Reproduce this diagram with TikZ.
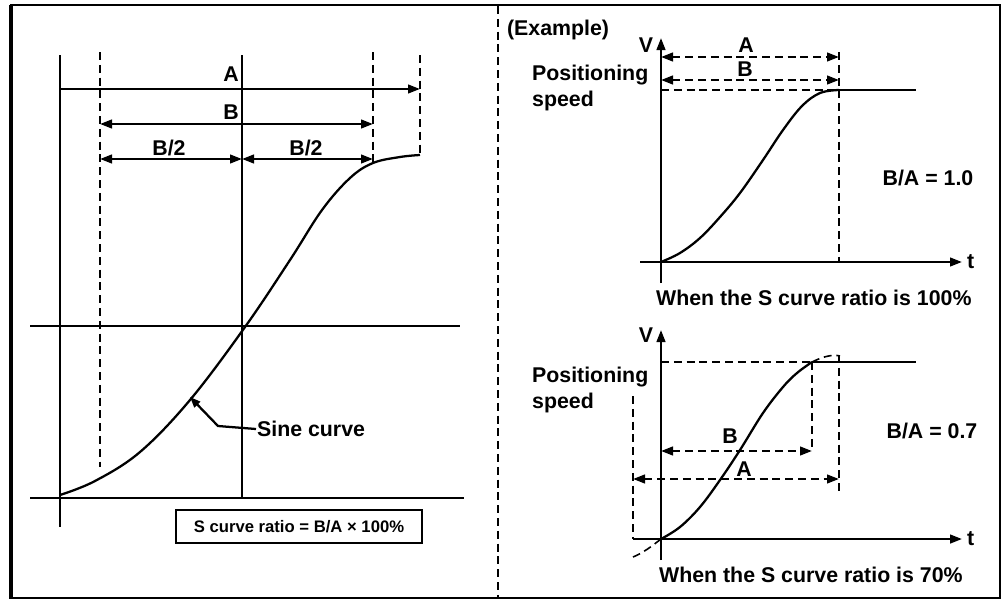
\documentclass[tikz,border=0pt]{standalone}
\usepackage{fontspec}
\setmainfont{Liberation Sans}
\usetikzlibrary{arrows.meta}
\begin{document}
\begin{tikzpicture}[x=0.75pt,y=-0.75pt, line width=1.7pt,
  lbl/.style={font=\fontsize{16}{19}\selectfont\bfseries, inner sep=0pt},
  small/.style={font=\fontsize{12.5}{14}\selectfont\bfseries, inner sep=0pt},
  dsh/.style={dash pattern=on 6pt off 3.6pt},
  tip/.style={-{Triangle[length=9pt,width=6.5pt]}},
  dtip/.style={{Triangle[length=9pt,width=6.5pt]}-{Triangle[length=9pt,width=6.5pt]}}]
\useasboundingbox (0,0) rectangle (1002,603);
% frame
\draw[line width=2pt] (11,5) rectangle (1000,598);
\draw[line width=2.8pt] (11,5) -- (11,599);
\draw[dsh] (498,6) -- (498,598);

% ===== left panel =====
\draw (60,55) -- (60,527);
\draw[dsh] (100,52) -- (100,467);
\draw (242,55) -- (242,497);
\draw[dsh] (373,52) -- (373,162);
\draw[dsh] (420,55) -- (420,155);
\draw (30,326) -- (460,326);
\draw (30,498) -- (464,498);
% dimension arrows
\draw[tip] (60,89) -- (420,89);
\node[lbl] (lA) at (231,74) {A};
\draw[dtip] (100,124) -- (373,124);
\node[lbl] (lB) at (231,112) {B};
\draw[dtip] (100,159) -- (242,159);
\draw[dtip] (242,159) -- (373,159);
\node[lbl] (lB2a) at (169,148) {B/2};
\node[lbl] (lB2b) at (306,148) {B/2};
% sine curve
\draw plot[smooth, tension=0.6] coordinates {(60,495) (95,481) (140,452) (190,400) (245,327) (290,260) (322,210) (350,178) (373,163) (400,157) (420,155)};
\node[lbl, anchor=west] (sine) at (256,429) {Sine curve};
\draw[{Triangle[length=8pt,width=6pt]}-] (190,397) -- (218,426) -- (sine.west);
% formula box
\node[small, draw, line width=1.7pt, minimum width=246*0.75pt, minimum height=33*0.75pt] (ratio) at (299,526.5) {S curve ratio = B/A × 100\%};

% ===== right panel =====
\node[lbl, anchor=west] (ex) at (506,30) {(Example)};
% top graph
\draw[tip] (661,283) -- (661,38);
\node[lbl] (V1) at (646,45) {V};
\draw[tip] (640,262) -- (962,262);
\node[lbl, anchor=west] (t1) at (966,262) {t};
\draw[dsh] (839,52) -- (839,262);
\draw[dsh, dtip] (661,57) -- (839,57);
\node[lbl] (A1) at (746,45) {A};
\draw[dsh, dtip] (661,80) -- (839,80);
\node[lbl] (B1) at (745,69) {B};
\draw[dsh] (661,90) -- (839,90);
\draw (839,90) -- (916,90);
\draw plot[smooth, tension=0.6] coordinates {(661,262) (680,253) (700,238) (720,217) (740,193) (763,160) (783,130) (802,106) (820,93) (839,90)};
\node[lbl, anchor=west, align=left] (ps1) at (531,88) {Positioning\\speed};
\node[lbl] (r1) at (928,178) {B/A = 1.0};
\node[lbl, anchor=west] (w1) at (655,298) {When the S curve ratio is 100\%};

% bottom graph
\draw[tip] (661,560) -- (661,330);
\node[lbl] (V2) at (646,335) {V};
\draw[tip] (633,539) -- (962,539);
\node[lbl, anchor=west] (t2) at (966,539) {t};
\draw[dsh] (661,362) -- (812,362);
\draw (812,362) -- (916,362);
\draw[dsh] (812,362) -- (812,451);
\draw[dsh, dtip] (661,451) -- (812,451);
\node[lbl] (B2) at (730,436) {B};
\draw[dsh] (839,355) -- (839,494);
\draw[dsh, dtip] (633,479) -- (839,479);
\node[lbl] (A2) at (744,469) {A};
\draw[dsh] (633,396) -- (633,539);
\draw plot[smooth, tension=0.6] coordinates {(661,539) (680,527) (700,507) (720,480) (740,450) (763,413) (783,387) (797,373) (812,362)};
\draw[dsh, line width=1.2pt] (812,362) .. controls (822,357) and (832,354) .. (840,356);
\draw[dsh, line width=1.2pt] (661,539) .. controls (652,546) and (643,553) .. (633,557);
\node[lbl, anchor=west, align=left] (ps2) at (531,390) {Positioning\\speed};
\node[lbl] (r2) at (932,431) {B/A = 0.7};
\node[lbl, anchor=west] (w2) at (658,575) {When the S curve ratio is 70\%};
\end{tikzpicture}
\end{document}
